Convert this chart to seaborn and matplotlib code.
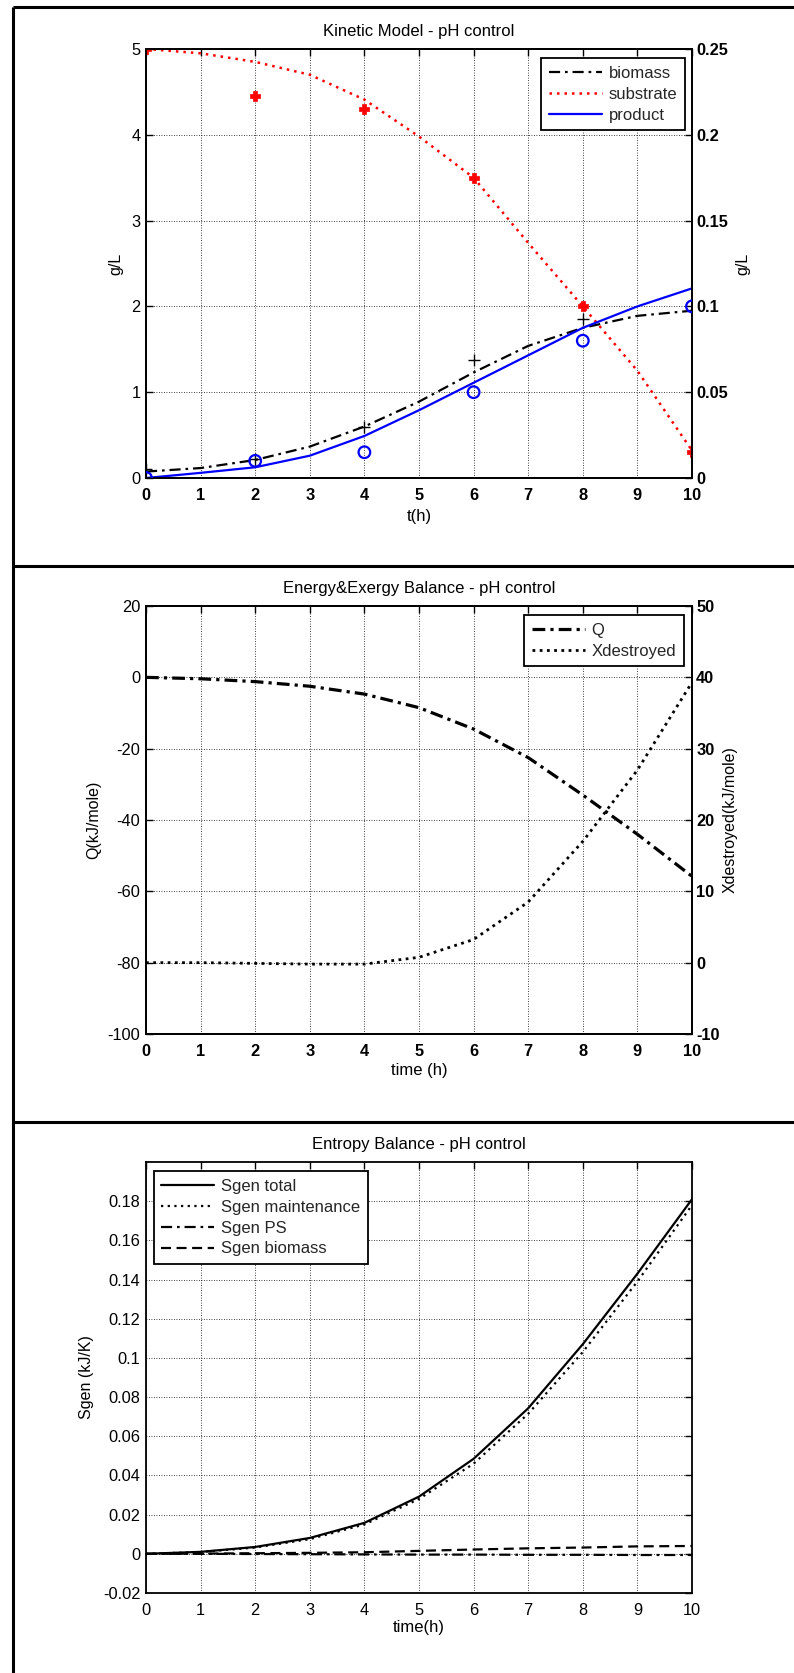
import matplotlib
matplotlib.use("Agg")
import matplotlib.pyplot as plt
from matplotlib.lines import Line2D
import pandas as pd
import seaborn as sns

# ---------------- Kinetic model (pH control) ----------------
t_model = [0, 1, 2, 3, 4, 5, 6, 7, 8, 9, 10]
biomass_model = [0.075, 0.116, 0.21, 0.366, 0.60, 0.89, 1.23, 1.54, 1.75, 1.89, 1.95]
substrate_model = [5.0, 4.95, 4.85, 4.70, 4.41, 3.98, 3.50, 2.74, 2.00, 1.25, 0.32]
product_model = [0.0, 0.003, 0.00625, 0.013, 0.0245, 0.0395, 0.0555, 0.0715, 0.0875, 0.100, 0.1105]

t_biomass_exp = [0, 2, 4, 6, 8]
biomass_exp = [0.10, 0.22, 0.60, 1.38, 1.85]
t_exp = [0, 2, 4, 6, 8, 10]
substrate_exp = [5.0, 4.45, 4.30, 3.50, 2.00, 0.30]
product_exp = [0.0, 0.010, 0.015, 0.050, 0.080, 0.100]

# ---------------- Energy & exergy balance ----------------
t_energy = [0, 1, 2, 3, 4, 5, 6, 7, 8, 9, 10]
heat_q = [0.0, -0.4, -1.2, -2.5, -4.7, -8.5, -14.5, -22.5, -33.0, -44.0, -55.8]
x_destroyed = [0.0, 0.0, -0.1, -0.2, -0.2, 0.75, 3.25, 8.5, 17.0, 27.0, 39.3]

# ---------------- Entropy balance ----------------
t_entropy = [0, 1, 2, 3, 4, 5, 6, 7, 8, 9, 10]
sgen_total = [0.0, 0.0010, 0.0035, 0.0081, 0.0158, 0.0292, 0.0485, 0.0743, 0.107, 0.143, 0.181]
sgen_maintenance = [0.0, 0.0009, 0.0032, 0.0075, 0.0150, 0.0280, 0.0460, 0.0715, 0.103, 0.139, 0.178]
sgen_ps = [0.0, 0.0, -0.0001, -0.0002, -0.0003, -0.0004, -0.0004, -0.0005, -0.0005, -0.0006, -0.0006]
sgen_biomass = [0.0, 0.0001, 0.0003, 0.0005, 0.0008, 0.0015, 0.0022, 0.0028, 0.0032, 0.0038, 0.0040]

W, H = 794, 1673
sns.set_theme(style="white")
plt.rcParams["font.family"] = ["Liberation Sans", "DejaVu Sans"]
plt.rcParams["axes.unicode_minus"] = False
plt.rcParams["axes.formatter.use_mathtext"] = False

FS_TICK = 11.8
FS_TEXT = 12
FS_YLAB = 11.5
DASHDOT = (0, (5, 2.2, 1.2, 2.2))
DOT = (0, (1, 2))
GRID = dict(color="black", linestyle=(0, (1, 2)), linewidth=0.6)

fig = plt.figure(figsize=(W / 100, H / 100), dpi=100)
fig.patch.set_facecolor("white")


def axes_rect(left, top, right, bottom):
    return [left / W, 1 - bottom / H, (right - left) / W, (bottom - top) / H]


def style_frame(ax):
    ax.set_facecolor("none")
    for s in ax.spines.values():
        s.set_visible(True)
        s.set_color("black")
        s.set_linewidth(1.3)


def frame_line(x0, y0, x1, y1):
    fig.add_artist(Line2D([x0 / W, x1 / W], [1 - y0 / H, 1 - y1 / H],
                          transform=fig.transFigure, color="black", lw=2.2,
                          solid_capstyle="butt"))


frame_line(13, 7, W, 7)
frame_line(13, 7, 13, H)
frame_line(13, 566, W, 566)
frame_line(13, 1122, W, 1122)

LEG = dict(fontsize=FS_TEXT, frameon=True, fancybox=False, framealpha=1,
           edgecolor="black", handlelength=3.2, handletextpad=0.4,
           borderpad=0.45, labelspacing=0.35, borderaxespad=0)

# ======================= Panel 1 =======================
ax1 = fig.add_axes(axes_rect(146, 49, 692, 478))
ax1r = ax1.twinx()
for a in (ax1, ax1r):
    style_frame(a)

kin = pd.DataFrame({"t": t_model, "biomass": biomass_model,
                    "substrate": substrate_model, "product": product_model})
sns.lineplot(data=kin, x="t", y="biomass", ax=ax1, color="black",
             linestyle=DASHDOT, linewidth=1.6, legend=False)
sns.lineplot(data=kin, x="t", y="substrate", ax=ax1, color="red",
             linestyle=DOT, linewidth=1.8, legend=False)
sns.scatterplot(x=t_biomass_exp, y=biomass_exp, ax=ax1, marker="+",
                color="black", s=70, linewidth=1.0, legend=False)
sns.scatterplot(x=t_exp, y=substrate_exp, ax=ax1, marker="P", color="red",
                edgecolor="red", s=55, linewidth=0.5, legend=False, zorder=5)
sns.lineplot(data=kin, x="t", y="product", ax=ax1r, color="blue",
             linewidth=1.6, legend=False)
sns.scatterplot(x=t_exp, y=product_exp, ax=ax1r, marker="o", facecolor="none",
                edgecolor="blue", s=70, linewidth=1.6, legend=False, zorder=5)

ax1.set_xlim(0, 10)
ax1.set_ylim(0, 5)
ax1r.set_ylim(0, 0.25)
ax1.set_xticks(range(0, 11))
ax1.set_yticks(range(0, 6))
ax1r.set_yticks([0, 0.05, 0.1, 0.15, 0.2, 0.25])
ax1r.set_yticklabels(["0", "0.05", "0.1", "0.15", "0.2", "0.25"], fontweight="bold")
ax1.set_xticklabels([str(i) for i in range(11)], fontweight="bold")
ax1.grid(True, **GRID)
ax1.tick_params(direction="in", length=5, width=1, top=True, labelsize=FS_TICK,
                colors="black", pad=4)
ax1.tick_params(axis="x", pad=7)
ax1r.tick_params(direction="in", length=5, width=1, labelsize=FS_TICK, pad=3,
                 colors="black")
ax1.set_title("Kinetic Model - pH control", fontsize=FS_TEXT, pad=9, color="black")
ax1.set_xlabel("t(h)", fontsize=FS_TEXT, color="black")
ax1.set_ylabel("g/L", fontsize=FS_YLAB, color="black")
ax1r.set_ylabel("g/L", fontsize=FS_YLAB, color="black")
ax1.xaxis.set_label_coords(0.5, -0.072)
ax1.yaxis.set_label_coords(-0.042, 0.5)
ax1r.yaxis.set_label_coords(1.079, 0.5)

h1 = [Line2D([], [], color="black", linestyle=DASHDOT, lw=1.6),
      Line2D([], [], color="red", linestyle=DOT, lw=1.8),
      Line2D([], [], color="blue", lw=1.6)]
leg = ax1r.legend(h1, ["biomass", "substrate", "product"], loc="upper right",
                  bbox_to_anchor=(0.987, 0.978), **LEG)
leg.get_frame().set_linewidth(1.3)

# ======================= Panel 2 =======================
ax2 = fig.add_axes(axes_rect(146, 606, 692, 1034))
ax2r = ax2.twinx()
for a in (ax2, ax2r):
    style_frame(a)

Q_STYLE = (0, (4, 1.6, 1, 1.6))
X_STYLE = (0, (1, 1.6))
eb = pd.DataFrame({"t": t_energy, "Q": heat_q, "X": x_destroyed})
sns.lineplot(data=eb, x="t", y="Q", ax=ax2, color="black",
             linestyle=Q_STYLE, linewidth=2.3, legend=False)
sns.lineplot(data=eb, x="t", y="X", ax=ax2r, color="black",
             linestyle=X_STYLE, linewidth=2.0, legend=False)

ax2.set_xlim(0, 10)
ax2.set_ylim(-100, 20)
ax2r.set_ylim(-10, 50)
ax2.set_xticks(range(0, 11))
ax2.set_xticklabels([str(i) for i in range(11)], fontweight="bold")
ax2.set_yticks(range(-100, 21, 20))
ax2.set_yticklabels([str(v) for v in range(-100, 21, 20)])
ax2r.set_yticks(range(-10, 51, 10))
ax2r.set_yticklabels([str(v) for v in range(-10, 51, 10)], fontweight="bold")
ax2.grid(True, **GRID)
ax2.tick_params(direction="in", length=5, width=1, top=True, labelsize=FS_TICK,
                colors="black", pad=4)
ax2.tick_params(axis="x", pad=7)
ax2r.tick_params(direction="in", length=5, width=1, labelsize=FS_TICK, pad=3,
                 colors="black")
ax2.set_title("Energy&Exergy Balance - pH control", fontsize=FS_TEXT, pad=9,
              color="black")
ax2.set_xlabel("time (h)", fontsize=FS_TEXT, color="black")
ax2.set_ylabel("Q(kJ/mole)", fontsize=FS_YLAB, color="black")
ax2r.set_ylabel("Xdestroyed(kJ/mole)", fontsize=FS_YLAB, color="black")
ax2.xaxis.set_label_coords(0.5, -0.068)
ax2.yaxis.set_label_coords(-0.082, 0.5)
ax2r.yaxis.set_label_coords(1.057, 0.5)

h2 = [Line2D([], [], color="black", linestyle=Q_STYLE, lw=2.3),
      Line2D([], [], color="black", linestyle=X_STYLE, lw=2.0)]
leg2 = ax2r.legend(h2, ["Q", "Xdestroyed"], loc="upper right",
                   bbox_to_anchor=(0.985, 0.978), **LEG)
leg2.get_frame().set_linewidth(1.3)

# ======================= Panel 3 =======================
ax3 = fig.add_axes(axes_rect(146, 1162, 692, 1593))
style_frame(ax3)

en = pd.DataFrame({"t": t_entropy, "total": sgen_total,
                   "maintenance": sgen_maintenance, "ps": sgen_ps,
                   "biomass": sgen_biomass})
styles3 = [("total", "-", "Sgen total"),
           ("maintenance", (0, (1, 2)), "Sgen maintenance"),
           ("ps", (0, (5, 2.2, 1.2, 2.2)), "Sgen PS"),
           ("biomass", (0, (4.5, 2.5)), "Sgen biomass")]
for col, ls, _ in styles3:
    sns.lineplot(data=en, x="t", y=col, ax=ax3, color="black", linestyle=ls,
                 linewidth=1.6, legend=False)

ax3.set_xlim(0, 10)
ax3.set_ylim(-0.02, 0.2)
ax3.set_xticks(range(0, 11))
yt = [-0.02, 0, 0.02, 0.04, 0.06, 0.08, 0.1, 0.12, 0.14, 0.16, 0.18]
ax3.set_yticks(yt)
ax3.set_yticklabels(["-0.02", "0", "0.02", "0.04", "0.06", "0.08", "0.1",
                     "0.12", "0.14", "0.16", "0.18"])
ax3.grid(True, **GRID)
ax3.tick_params(direction="in", length=5, width=1, top=True, right=True,
                labelsize=FS_TICK, colors="black", pad=4)
ax3.tick_params(axis="x", pad=7)
ax3.set_title("Entropy Balance - pH control", fontsize=FS_TEXT, pad=9, color="black")
ax3.set_xlabel("time(h)", fontsize=FS_TEXT, color="black")
ax3.set_ylabel("Sgen (kJ/K)", fontsize=FS_YLAB, color="black")
ax3.xaxis.set_label_coords(0.5, -0.062)
ax3.yaxis.set_label_coords(-0.095, 0.5)

h3 = [Line2D([], [], color="black", linestyle=ls, lw=1.6) for _, ls, _ in styles3]
leg3 = ax3.legend(h3, [lab for _, _, lab in styles3], loc="upper left",
                  bbox_to_anchor=(0.014, 0.978), **LEG)
leg3.get_frame().set_linewidth(1.3)

fig.savefig("out.png", dpi=100, facecolor="white")
